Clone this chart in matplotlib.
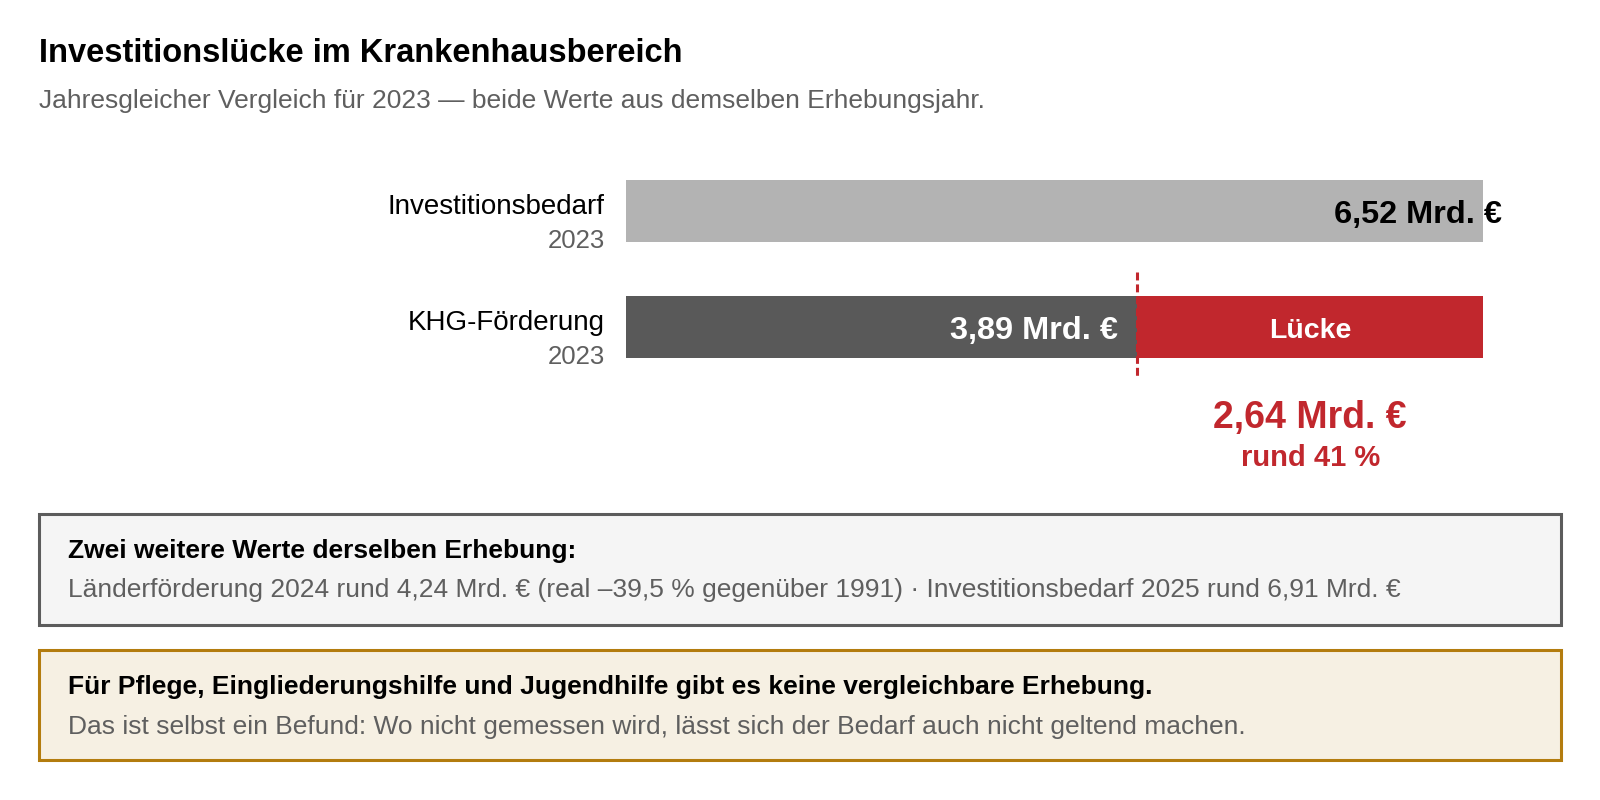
import matplotlib.pyplot as plt
from matplotlib.patches import Rectangle

plt.rcParams['font.family'] = ['Liberation Sans', 'DejaVu Sans']

# data
categories = ['Investitionsbedarf', 'KHG-Förderung']
years = ['2023', '2023']
values = [6.52, 3.89]          # Mrd. EUR
value_labels = ['6,52 Mrd. €', '3,89 Mrd. €']
gap_label = '2,64 Mrd. €'
gap_share = 'rund 41 %'

title = 'Investitionslücke im Krankenhausbereich'
subtitle = 'Jahresgleicher Vergleich für 2023 — beide Werte aus demselben Erhebungsjahr.'
box1_head = 'Zwei weitere Werte derselben Erhebung:'
box1_text = 'Länderförderung 2024 rund 4,24 Mrd. € (real –39,5 % gegenüber 1991) · Investitionsbedarf 2025 rund 6,91 Mrd. €'
box2_head = 'Für Pflege, Eingliederungshilfe und Jugendhilfe gibt es keine vergleichbare Erhebung.'
box2_text = 'Das ist selbst ein Befund: Wo nicht gemessen wird, lässt sich der Bedarf auch nicht geltend machen.'

RED = '#c1272d'
DARK = '#595959'
LIGHT = '#b3b3b3'
GREY_TXT = '#5f5f5f'

W, H = 1600, 800
fig = plt.figure(figsize=(16, 8), dpi=100)
fig.patch.set_facecolor('white')

def fx(px):
    return px / W

def fy(py):
    return 1 - py / H

fig.text(fx(39), fy(54), title, fontsize=23.5, fontweight='bold', va='center', ha='left')
fig.text(fx(39), fy(101), subtitle, fontsize=19, color=GREY_TXT, va='center', ha='left')

# bar axes: x 0..need maps onto 626..1483 px
ax = fig.add_axes([fx(626), fy(380), fx(1483 - 626), (380 - 170) / H])
ax.set_xlim(0, values[0])
ax.set_ylim(1.457, -0.353)
ax.axis('off')

need, funding = values
bh = 0.535
ax.barh(0, need, height=bh, color=LIGHT)
ax.barh(1, funding, height=bh, color=DARK)
ax.barh(1, need - funding, left=funding, height=bh, color=RED)
ax.plot([funding, funding], [0.53, 1.42], color=RED, lw=2.2, ls=(0, (2.6, 1.3)), clip_on=False)

for i, (cat, yr) in enumerate(zip(categories, years)):
    ax.annotate(cat, xy=(0, i), xycoords=('axes fraction', 'data'), xytext=(-21, 4),
                textcoords='offset pixels', ha='right', va='center', fontsize=20)
    ax.annotate(yr, xy=(0, i), xycoords=('axes fraction', 'data'), xytext=(-21, -30),
                textcoords='offset pixels', ha='right', va='center', fontsize=18.5, color=GREY_TXT)

ax.annotate(value_labels[0], xy=(need, 0), xytext=(19, -4), textcoords='offset pixels',
            ha='right', va='center', fontsize=23.4, fontweight='bold', annotation_clip=False)
ax.annotate(value_labels[1], xy=(funding, 1), xytext=(-19, -4), textcoords='offset pixels',
            ha='right', va='center', fontsize=23.4, fontweight='bold', color='white')
mid = (funding + need) / 2
ax.annotate('Lücke', xy=(mid, 1), xytext=(0, -4), textcoords='offset pixels',
            ha='center', va='center', fontsize=20.5, fontweight='bold', color='white')
ax.annotate(gap_label, xy=(mid, 1), xytext=(0, -91), textcoords='offset pixels',
            ha='center', va='center', fontsize=27, fontweight='bold', color=RED, annotation_clip=False)
ax.annotate(gap_share, xy=(mid, 1), xytext=(0, -131), textcoords='offset pixels',
            ha='center', va='center', fontsize=21, fontweight='bold', color=RED, annotation_clip=False)

# info boxes
fig.patches.append(Rectangle((fx(39), fy(625)), fx(1522), (625 - 514) / H, transform=fig.transFigure,
                             facecolor='#f5f5f5', edgecolor='#5c5c5c', lw=2.2))
fig.text(fx(68), fy(551), box1_head, fontsize=19, fontweight='bold', va='center')
fig.text(fx(68), fy(590), box1_text, fontsize=19, color=GREY_TXT, va='center')

fig.patches.append(Rectangle((fx(39), fy(760)), fx(1522), (760 - 650) / H, transform=fig.transFigure,
                             facecolor='#f6f0e3', edgecolor='#b37c0e', lw=2.2))
fig.text(fx(68), fy(687), box2_head, fontsize=19, fontweight='bold', va='center')
fig.text(fx(68), fy(727), box2_text, fontsize=19, color=GREY_TXT, va='center')

fig.savefig('out.png', dpi=100)
